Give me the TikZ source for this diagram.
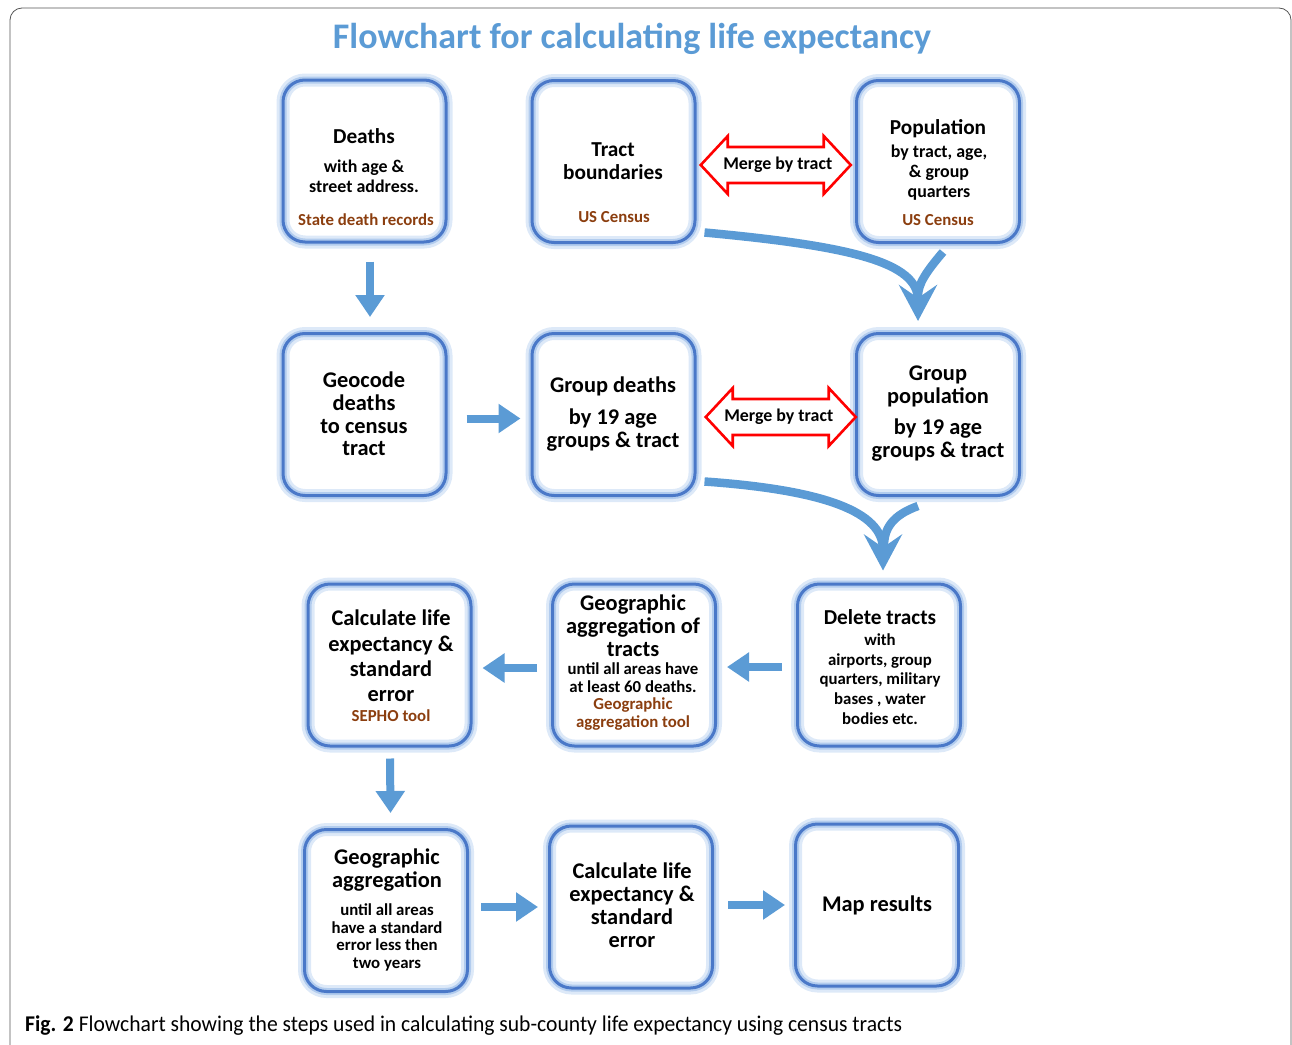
\documentclass[tikz,border=0pt]{standalone}
\usepackage{fontspec}
\setmainfont{Carlito}
\newfontfamily\capfont[FakeStretch=0.96]{Carlito}
\usetikzlibrary{arrows.meta,calc}
\definecolor{boxblue}{HTML}{4A78C8}
\definecolor{glowA}{HTML}{DDE9F8}
\definecolor{glowB}{HTML}{B2CCEE}
\definecolor{arrblue}{HTML}{5B9BD5}
\definecolor{titleblue}{HTML}{5B9BD5}
\definecolor{srcbrown}{HTML}{8B3E0F}
\definecolor{framegray}{HTML}{555555}
\newcommand{\fsz}[2]{\fontsize{#1}{#2}\selectfont\bfseries}
\tikzset{
  flowbox/.style={rounded corners=22pt, minimum width=163pt, minimum height=162pt, inner sep=0pt,
    preaction={draw=glowA, line width=13pt},
    preaction={draw=glowB, line width=7pt},
    draw=boxblue, line width=3pt},
  txt/.style={align=center, inner sep=0pt},
  src/.style={txt, text=srcbrown},
  blockarrow/.style={draw=arrblue, line width=8pt, -{Triangle[length=22pt,width=28pt]}},
  curvearrow/.style={draw=arrblue, line width=8.5pt, -{Stealth[length=36pt,width=38pt,inset=13pt]}},
  curvebranch/.style={draw=arrblue, line width=8.5pt},
  mergeshape/.style={draw=red, line width=2.6pt, fill=white, line join=miter},
}
\begin{document}
\begin{tikzpicture}[x=1pt,y=-1pt]
\useasboundingbox (0,0) rectangle (1292,1044);
% frame
\draw[framegray, line width=0.8pt, rounded corners=12pt] (10,1060) -- (10,8) -- (1291,8) -- (1291,1060);
% title
\node[txt, text=titleblue, font=\fsz{36}{40}] (title) at (632,39) {Flowchart for calculating life expectancy};

% boxes
\node[flowbox] (deaths) at (364.5,161) {};
\node[flowbox] (tract) at (613.5,161.5) {};
\node[flowbox] (pop) at (938,161.5) {};
\node[flowbox] (geo) at (364.5,414.5) {};
\node[flowbox] (gdeaths) at (613.5,414.5) {};
\node[flowbox] (gpop) at (938,414.5) {};
\node[flowbox] (calc) at (389.5,665) {};
\node[flowbox] (aggt) at (634,665) {};
\node[flowbox] (del) at (879,665) {};
\node[flowbox] (agg) at (386,910.5) {};
\node[flowbox] (calc2) at (631,907) {};
\node[flowbox] (map) at (877,905) {};

% texts
\node[txt, font=\fsz{21.3}{22}] (deathsA) at (364,136) {Deaths};
\node[txt, font=\fsz{17.9}{20}] (deathsB) at (364,176) {with age \&\\street address.};
\node[src, font=\fsz{16.8}{18}] (deathsC) at (366,220) {State death records};

\node[txt, font=\fsz{21.3}{22.5}] (tractA) at (613,161) {Tract\\boundaries};
\node[src, font=\fsz{16.8}{18}] (tractB) at (614,217) {US Census};

\node[txt, font=\fsz{21.3}{22}] (popA) at (938,129) {Population};
\node[txt, font=\fsz{17.9}{20}] (popB) at (939,173) {by tract, age,\\\& group\\quarters};
\node[src, font=\fsz{16.8}{18}] (popC) at (938,220) {US Census};

\node[txt, font=\fsz{22.4}{22.7}] (geoA) at (364,414) {Geocode\\deaths\\to census\\tract};

\node[txt, font=\fsz{22.4}{23}] (gdeathsA) at (613,386) {Group deaths};
\node[txt, font=\fsz{22.4}{23}] (gdeathsB) at (613,430) {by 19 age\\groups \& tract};

\node[txt, font=\fsz{22.4}{23}] (gpopA) at (938,386.5) {Group\\population};
\node[txt, font=\fsz{22.4}{23}] (gpopB) at (938,440.5) {by 19 age\\groups \& tract};

\node[txt, font=\fsz{22.4}{25.3}] (calcA) at (391,656) {Calculate life\\expectancy \&\\standard\\error};
\node[src, font=\fsz{16.8}{18}] (calcB) at (391,716) {SEPHO tool};

\node[txt, font=\fsz{22.4}{23}] (aggtA) at (633,626) {Geographic\\aggregation of\\tracts};
\node[txt, font=\fsz{16.8}{18}] (aggtB) at (633,678) {until all areas have\\at least 60 deaths.};
\node[src, font=\fsz{16.8}{18}] (aggtC) at (633,714) {Geographic\\aggregation tool};

\node[txt, font=\fsz{21.3}{22}] (delA) at (880,617) {Delete tracts};
\node[txt, font=\fsz{16.8}{19.8}] (delB) at (880,679) {with\\airports, group\\quarters, military\\bases , water\\bodies etc.};

\node[txt, font=\fsz{22.4}{22.5}] (aggA) at (387,870) {Geographic\\aggregation};
\node[txt, font=\fsz{16.8}{17.7}] (aggB) at (387,937.5) {until all areas\\have a standard\\error less then\\two years};

\node[txt, font=\fsz{22.4}{23}] (calc2A) at (632,905.5) {Calculate life\\expectancy \&\\standard\\error};
\node[txt, font=\fsz{22.4}{23}] (mapA) at (877,905) {Map results};

% merge arrows
\coordinate (m1c) at ($(tract.east)!0.5!(pop.west)+(0,3.5)$);
\draw[mergeshape] ($(m1c)+(-75,0)$) -- ++(27,-29) -- ++(0,11) -- ++(96,0) -- ++(0,-11) -- ++(27,29)
  -- ++(-27,29) -- ++(0,-11) -- ++(-96,0) -- ++(0,11) -- cycle;
\node[txt, font=\fsz{17.9}{18}] (m1) at ($(m1c)+(2,0)$) {Merge by tract};
\coordinate (m2c) at ($(gdeaths.east)!0.5!(gpop.west)+(5,2.5)$);
\draw[mergeshape] ($(m2c)+(-75,0)$) -- ++(27,-29) -- ++(0,11) -- ++(96,0) -- ++(0,-11) -- ++(27,29)
  -- ++(-27,29) -- ++(0,-11) -- ++(-96,0) -- ++(0,11) -- cycle;
\node[txt, font=\fsz{17.9}{18}] (m2) at ($(m2c)+(-2,0)$) {Merge by tract};

% straight arrows
\draw[blockarrow] ($(deaths.south)+(5.5,18)$) -- ($(geo.north)+(5.5,-15)$);
\draw[blockarrow] ($(geo.east)+(19,4)$) -- ($(gdeaths.west)+(-10,4)$);
\draw[blockarrow] ($(del.west)+(-14,2)$) -- ($(aggt.east)+(10,2)$);
\draw[blockarrow] ($(aggt.west)+(-14,3)$) -- ($(calc.east)+(10,3)$);
\draw[blockarrow] ($(calc.south)+(0.5,11)$) -- ($(agg.north)+(4.5,-15)$);
\draw[blockarrow] ($(agg.east)+(12,-3.5)$) -- ($(calc2.west)+(-10,0)$);
\draw[blockarrow] ($(calc2.east)+(14,-2)$) -- ($(map.west)+(-9,0)$);

% curved arrows
\draw[curvearrow] ($(tract.south east)+(8,-11.5)$) .. controls (850,246) and (918,262) .. ($(gpop.north)+(-20,-11)$);
\draw[curvebranch] ($(pop.south)+(5,8)$) .. controls (926,272) and (918,284) .. (918,296);
\draw[curvearrow] ($(gdeaths.south east)+(8,-15.5)$) .. controls (825,490) and (883,512) .. ($(del.north)+(4,-12)$);
\draw[curvebranch] ($(gpop.south)+(-20,9)$) .. controls (893,515) and (884,528) .. (884,546);

% caption
\node[anchor=west, inner sep=0pt, font=\capfont\fontsize{22.5}{26}\selectfont] (cap) at (25,1026) {\textbf{Fig. 2} Flowchart showing the steps used in calculating sub-county life expectancy using census tracts};
\end{tikzpicture}
\end{document}
